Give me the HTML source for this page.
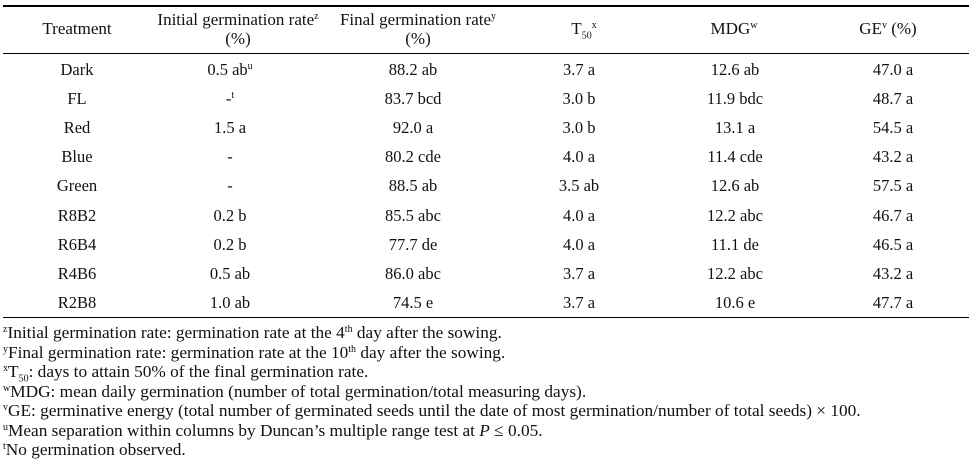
<!DOCTYPE html>
<html><head><meta charset="utf-8"><style>
body{margin:0;background:#fff;width:972px;height:465px;position:relative;overflow:hidden;font-family:"Liberation Serif",serif;font-size:16.5px;color:#111}
.t{position:absolute;white-space:nowrap;transform:translateX(-50%);line-height:18px}
.h{font-size:17px}
.l{position:absolute;white-space:nowrap;left:3px;line-height:18px;font-size:17.3px}
sup{font-size:10px;vertical-align:top;position:relative;top:-3px}
sub{font-size:10px}
.r{position:absolute;left:3px;width:966px;background:#000}
</style></head><body>
<div class="r" style="top:5px;height:2px"></div>
<div class="r" style="top:53px;height:1px"></div>
<div class="r" style="top:317px;height:1px"></div>

<div class="t h" style="left:77px;top:20px">Treatment</div>
<div class="t h" style="left:238px;top:11px">Initial germination rate<sup>z</sup></div>
<div class="t h" style="left:238px;top:30px">(%)</div>
<div class="t h" style="left:418px;top:11px">Final germination rate<sup>y</sup></div>
<div class="t h" style="left:418px;top:30px">(%)</div>
<div class="t h" style="left:584px;top:20px">T<sub>50</sub><sup>x</sup></div>
<div class="t h" style="left:734px;top:20px">MDG<sup>w</sup></div>
<div class="t h" style="left:888px;top:20px">GE<sup>v</sup> (%)</div>

<div id="rows"></div>
<script>
var d=[["Dark","0.5 ab<sup>u</sup>","88.2 ab","3.7 a","12.6 ab","47.0 a"],
["FL","-<sup>t</sup>","83.7 bcd","3.0 b","11.9 bdc","48.7 a"],
["Red","1.5 a","92.0 a","3.0 b","13.1 a","54.5 a"],
["Blue","-","80.2 cde","4.0 a","11.4 cde","43.2 a"],
["Green","-","88.5 ab","3.5 ab","12.6 ab","57.5 a"],
["R8B2","0.2 b","85.5 abc","4.0 a","12.2 abc","46.7 a"],
["R6B4","0.2 b","77.7 de","4.0 a","11.1 de","46.5 a"],
["R4B6","0.5 ab","86.0 abc","3.7 a","12.2 abc","43.2 a"],
["R2B8","1.0 ab","74.5 e","3.7 a","10.6 e","47.7 a"]];
var x=[77,230,413,579,735,893],h="";
d.forEach(function(r,i){r.forEach(function(c,j){h+='<div class="t" style="left:'+x[j]+'px;top:'+(61+i*29.1)+'px">'+c+'</div>';});});
document.getElementById("rows").innerHTML=h;
</script>

<div class="l" style="top:324px"><sup>z</sup>Initial germination rate: germination rate at the 4<sup>th</sup> day after the sowing.</div>
<div class="l" style="top:343.5px"><sup>y</sup>Final germination rate: germination rate at the 10<sup>th</sup> day after the sowing.</div>
<div class="l" style="top:363px"><sup>x</sup>T<sub>50</sub>: days to attain 50% of the final germination rate.</div>
<div class="l" style="top:382.5px"><sup>w</sup>MDG: mean daily germination (number of total germination/total measuring days).</div>
<div class="l" style="top:402px"><sup>v</sup>GE: germinative energy (total number of germinated seeds until the date of most germination/number of total seeds) × 100.</div>
<div class="l" style="top:421.5px"><sup>u</sup>Mean separation within columns by Duncan’s multiple range test at <i>P</i> ≤ 0.05.</div>
<div class="l" style="top:441px"><sup>t</sup>No germination observed.</div>
</body></html>
